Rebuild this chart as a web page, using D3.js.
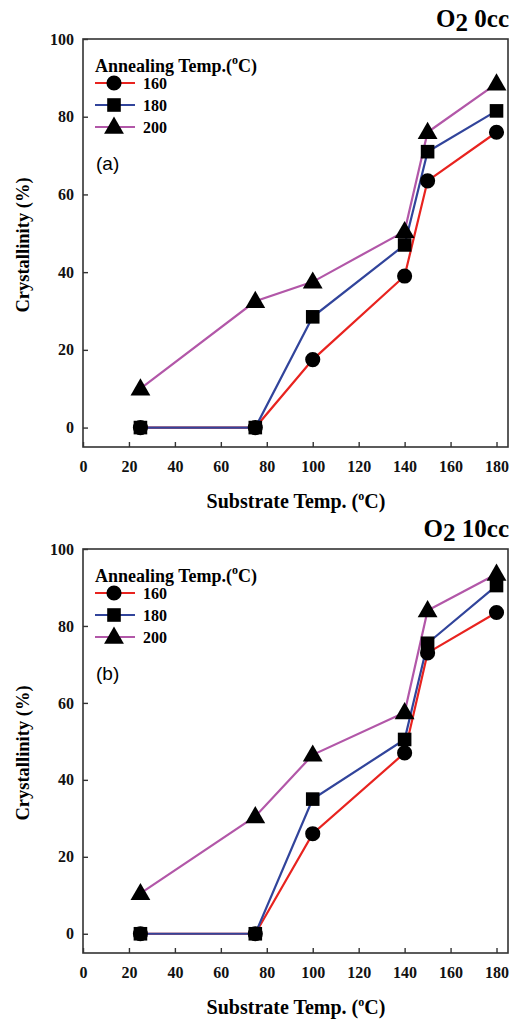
<!DOCTYPE html>
<html>
<head>
<meta charset="utf-8">
<script src="https://cdn.jsdelivr.net/npm/d3@7"></script>
<style>
  html, body { margin: 0; padding: 0; background: #fff; }
  svg { display: block; }
</style>
</head>
<body>
<svg id="chart" width="518" height="1021"></svg>
<script>
// Substrate temperatures (°C) shared by both panels
const substrateTemps = [25, 75, 100, 140, 150, 180];

// Annealing temperatures (legend entries)
const annealingTemps = ["160", "180", "200"];

// Crystallinity (%) — O2 0cc
const o2_0cc_160 = [0, 0, 17.5, 39, 63.5, 76];
const o2_0cc_180 = [0, 0, 28.5, 47, 71, 81.5];
const o2_0cc_200 = [10, 32.5, 37.5, 50.5, 76, 88.5];

// Crystallinity (%) — O2 10cc
const o2_10cc_160 = [0, 0, 26, 47, 73, 83.5];
const o2_10cc_180 = [0, 0, 35, 50.5, 75.5, 90.5];
const o2_10cc_200 = [10.5, 30.5, 46.5, 57.5, 84, 93.5];

// Axis ticks
const xTicks = [0, 20, 40, 60, 80, 100, 120, 140, 160, 180];
const yTicks = [0, 20, 40, 60, 80, 100];

const panels = [
  { tag: "(a)", flow: "0cc", series: [o2_0cc_160, o2_0cc_180, o2_0cc_200],
    top: 39, bottom: 447 },
  { tag: "(b)", flow: "10cc", series: [o2_10cc_160, o2_10cc_180, o2_10cc_200],
    top: 549, bottom: 953 }
];

const colors = ["#e8231f", "#31449b", "#b257a8"];
const shapes = [d3.symbolCircle, d3.symbolSquare, d3.symbolTriangle];
const sizes = [180, 185, 170];
const serif = "'Liberation Serif', 'Times New Roman', serif";

const svg = d3.select("#chart");
const left = 83, right = 508;

panels.forEach(p => {
  const g = svg.append("g");
  const x = d3.scaleLinear().domain([0, 185]).range([left, right]);
  const y = d3.scaleLinear().domain([-5, 100]).range([p.bottom, p.top]);

  // Frame
  g.append("rect")
    .attr("x", left).attr("y", p.top)
    .attr("width", right - left).attr("height", p.bottom - p.top)
    .attr("fill", "none").attr("stroke", "#333").attr("stroke-width", 1.6);

  // X axis (inward ticks)
  const xAxis = g.append("g")
    .attr("transform", `translate(0,${p.bottom})`)
    .call(d3.axisBottom(x).tickValues(xTicks).tickSize(-5).tickPadding(14));
  xAxis.select(".domain").remove();
  xAxis.selectAll("line").attr("stroke", "#333").attr("stroke-width", 1.4);
  xAxis.selectAll("text")
    .attr("font-family", serif).attr("font-weight", "bold")
    .attr("font-size", 16).attr("fill", "#111");

  // Y axis (inward ticks)
  const yAxis = g.append("g")
    .attr("transform", `translate(${left},0)`)
    .call(d3.axisLeft(y).tickValues(yTicks).tickSize(-5).tickPadding(9));
  yAxis.select(".domain").remove();
  yAxis.selectAll("line").attr("stroke", "#333").attr("stroke-width", 1.4);
  yAxis.selectAll("text")
    .attr("font-family", serif).attr("font-weight", "bold")
    .attr("font-size", 16).attr("fill", "#111");

  // Axis titles
  g.append("text")
    .attr("transform", `translate(29,${(p.top + p.bottom) / 2 + 2}) rotate(-90)`)
    .attr("text-anchor", "middle")
    .attr("font-family", serif).attr("font-weight", "bold").attr("font-size", 18.5)
    .text("Crystallinity (%)");

  const xt = g.append("text")
    .attr("x", 296).attr("y", p.bottom + 61)
    .attr("text-anchor", "middle")
    .attr("font-family", serif).attr("font-weight", "bold").attr("font-size", 20);
  xt.append("tspan").text("Substrate Temp. (");
  xt.append("tspan").attr("dy", -8).attr("font-size", 12).text("o");
  xt.append("tspan").attr("dy", 8).text("C)");

  // Panel title: O2 flow
  const tt = g.append("text")
    .attr("x", 509).attr("y", p.top - 12)
    .attr("text-anchor", "end")
    .attr("font-family", serif).attr("font-weight", "bold").attr("font-size", 25);
  tt.append("tspan").text("O");
  tt.append("tspan").attr("dy", 4).text("2");
  tt.append("tspan").attr("dy", -4).text(" " + p.flow);

  // Lines
  const line = d3.line().x((d, i) => x(substrateTemps[i])).y(d => y(d));
  p.series.forEach((s, k) => {
    g.append("path").datum(s)
      .attr("d", line)
      .attr("fill", "none")
      .attr("stroke", colors[k])
      .attr("stroke-width", 2.2);
  });

  // Markers
  p.series.forEach((s, k) => {
    g.selectAll(null).data(s).enter().append("path")
      .attr("d", d3.symbol().type(shapes[k]).size(sizes[k]))
      .attr("transform", (d, i) => `translate(${x(substrateTemps[i])},${y(d) + (k === 2 ? 1 : 0)})`)
      .attr("fill", "#000");
  });

  // Legend
  const lg = g.append("g");
  const lt = lg.append("text")
    .attr("x", 95).attr("y", p.top + 33)
    .attr("font-family", serif).attr("font-weight", "bold").attr("font-size", 18);
  lt.append("tspan").text("Annealing Temp.(");
  lt.append("tspan").attr("dy", -8).attr("font-size", 12).text("o");
  lt.append("tspan").attr("dy", 8).text("C)");

  annealingTemps.forEach((label, k) => {
    const ry = p.top + 44 + k * 22;
    lg.append("line")
      .attr("x1", 95).attr("x2", 135).attr("y1", ry).attr("y2", ry)
      .attr("stroke", colors[k]).attr("stroke-width", 2.2);
    lg.append("path")
      .attr("d", d3.symbol().type(shapes[k]).size(sizes[k]))
      .attr("transform", `translate(114,${ry + (k === 2 ? 1 : 0)})`)
      .attr("fill", "#000");
    lg.append("text")
      .attr("x", 143).attr("y", ry + 6)
      .attr("font-family", serif).attr("font-weight", "bold").attr("font-size", 16)
      .text(label);
  });

  // Panel tag
  g.append("text")
    .attr("x", 96).attr("y", p.top + 131)
    .attr("font-family", "'Liberation Sans', Arial, sans-serif")
    .attr("font-size", 19)
    .text(p.tag);
});
</script>
</body>
</html>
